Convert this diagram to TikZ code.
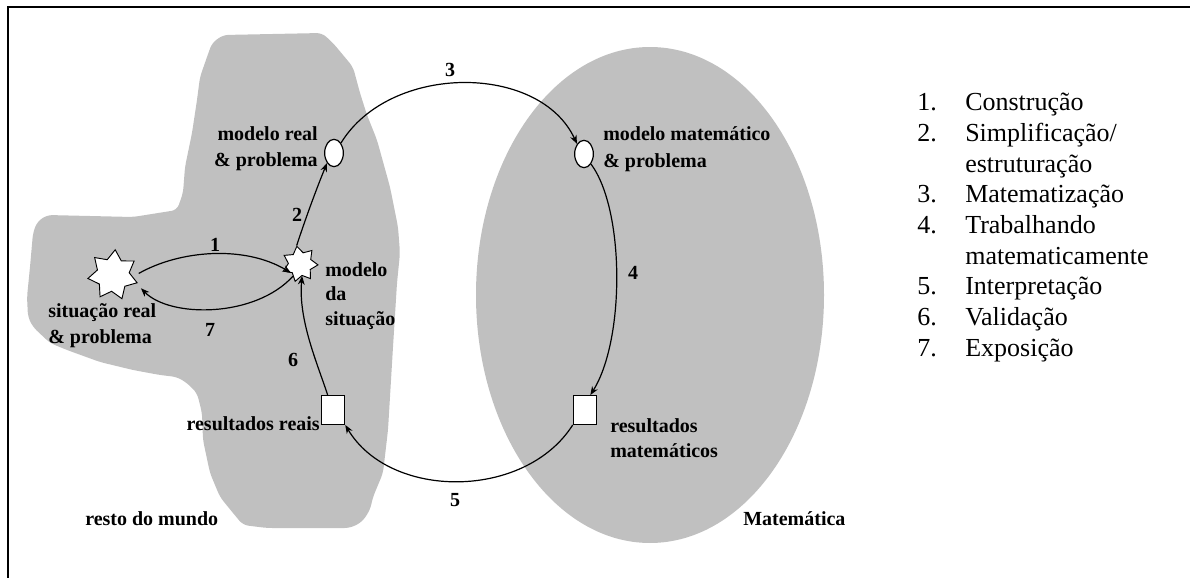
\documentclass[tikz,border=0pt]{standalone}
\usepackage{fontspec}
\setmainfont{Liberation Serif}
\usetikzlibrary{shapes.geometric,arrows.meta}
\definecolor{regiongray}{HTML}{C0C0C0}
\tikzset{
  lbl/.style={font=\fontsize{15}{19.5}\selectfont\bfseries, inner sep=0pt},
  leg/.style={font=\fontsize{19.5}{23}\selectfont, inner sep=0pt, anchor=base west},
  conn/.style={line width=0.9pt, -{Stealth[length=6.5pt,width=5pt]}},
  oval/.style={ellipse, draw, line width=0.9pt, fill=white, inner sep=0pt, minimum width=14pt, minimum height=20.5pt},
  sqbox/.style={rectangle, draw, line width=0.9pt, fill=white, inner sep=0pt, minimum width=17.5pt, minimum height=21.5pt},
  starnode/.style={star, draw, line width=0.7pt, fill=white, inner sep=0pt, star point ratio=1.55},
  region/.style={fill=regiongray, draw=none}
}
\begin{document}
\begin{tikzpicture}[x=0.75pt,y=-0.75pt]
\useasboundingbox (0,0) rectangle (1190,578);
% frame
\draw[line width=1.5pt] (8,578) -- (8,6.5) -- (1190,6.5);
% regions
\fill[region, rounded corners=4pt] (212,43) -- (223,35) -- (322,33) -- (333,43) -- (353,67) -- (360,93)
  -- (367,115) -- (377,140) -- (390,187) -- (398,227) -- (400,253) -- (397,283) -- (393,347)
  -- (388,430) -- (383,473) -- (373,497) -- (370,510) -- (362,522) -- (350,528) -- (267,528)
  -- (243,525) -- (233,513) -- (220,497) -- (210,473) -- (203,440) -- (202,413) -- (197,393)
  -- (187,383) -- (177,377) -- (160,375) -- (133,370) -- (100,362) -- (67,350) -- (50,343)
  -- (33,327) -- (28,317) -- (27,297) -- (30,267) -- (33,233) -- (37,222) -- (47,215)
  -- (133,217) -- (177,210) -- (183,193) -- (185,167) -- (192,133) -- (197,100) -- (200,77)
  -- (207,57) -- cycle;
\fill[region] (650,295) ellipse [x radius=174, y radius=248];
% nodes
\node[oval] (rm) at (334,153) {};
\node[oval] (mm) at (584,154) {};
\node[starnode, star points=7, minimum size=27pt, rotate=10] (ms) at (300,264) {};
\node[starnode, star points=7, minimum size=38pt, rotate=-5] (sr) at (113,275) {};
\node[sqbox] (rr) at (333,410) {};
\node[sqbox] (mr) at (585,410) {};
% connectors
\draw[conn] (rm.north east) .. controls (390,63) and (540,63) .. (mm.north west);
\draw[conn] (mm.south east) .. controls (625,210) and (625,340) .. ([xshift=4pt]mr.north);
\draw[conn] (mr.south west) .. controls (525,500) and (390,500) .. (rr.south east);
\draw[conn] ([xshift=-4pt]rr.north) .. controls (318,365) and (298,320) .. (ms.south);
\draw[conn] (ms.north) .. controls (305,220) and (316,190) .. (rm.south west);
\draw[conn, shorten <=5pt] (sr.east) .. controls (180,250) and (245,245) .. (ms.215);
\draw[conn, shorten >=5pt] (ms.230) .. controls (255,318) and (170,318) .. (sr.-15);
% connector labels
\node[lbl] (t1) at (215,245) {1};
\node[lbl] (t2) at (297,215) {2};
\node[lbl] (t3) at (450,70) {3};
\node[lbl] (t4) at (633,273) {4};
\node[lbl] (t5) at (455,500) {5};
\node[lbl] (t6) at (293,360) {6};
\node[lbl] (t7) at (210,330) {7};
% node labels
\node[lbl, anchor=base east] (rma) at (318,140) {modelo real};
\node[lbl, anchor=base east] (rmb) at (318,166) {\& problema};
\node[lbl, anchor=base west] (mma) at (603,140) {modelo matemático};
\node[lbl, anchor=base west] (mmb) at (603,167) {\& problema};
\node[lbl, anchor=base west] (msa) at (325,276) {modelo};
\node[lbl, anchor=base west] (msb) at (325,300) {da};
\node[lbl, anchor=base west] (msc) at (325,325) {situação};
\node[lbl, anchor=base west] (sra) at (48,317) {situação real};
\node[lbl, anchor=base west] (srb) at (48,343) {\& problema};
\node[lbl, anchor=base east] (rra) at (320,430) {resultados reais};
\node[lbl, anchor=base west] (mra) at (610,432) {resultados};
\node[lbl, anchor=base west] (mrb) at (610,457) {matemáticos};
\node[lbl, anchor=base west] (world) at (85,525) {resto do mundo};
\node[lbl, anchor=base west] (math) at (743,525) {Matemática};
% legend
\node[leg] (n1) at (917,110.7) {1.};
\node[leg] (l1) at (965,110.7) {Construção};
\node[leg] (n2) at (917,141.4) {2.};
\node[leg] (l2) at (965,141.4) {Simplificação/};
\node[leg] (l2b) at (965,172.1) {estruturação};
\node[leg] (n3) at (917,202.8) {3.};
\node[leg] (l3) at (965,202.8) {Matematização};
\node[leg] (n4) at (917,233.5) {4.};
\node[leg] (l4) at (965,233.5) {Trabalhando};
\node[leg] (l4b) at (965,264.2) {matematicamente};
\node[leg] (n5) at (917,294.9) {5.};
\node[leg] (l5) at (965,294.9) {Interpretação};
\node[leg] (n6) at (917,325.6) {6.};
\node[leg] (l6) at (965,325.6) {Validação};
\node[leg] (n7) at (917,356.3) {7.};
\node[leg] (l7) at (965,356.3) {Exposição};
\end{tikzpicture}
\end{document}
